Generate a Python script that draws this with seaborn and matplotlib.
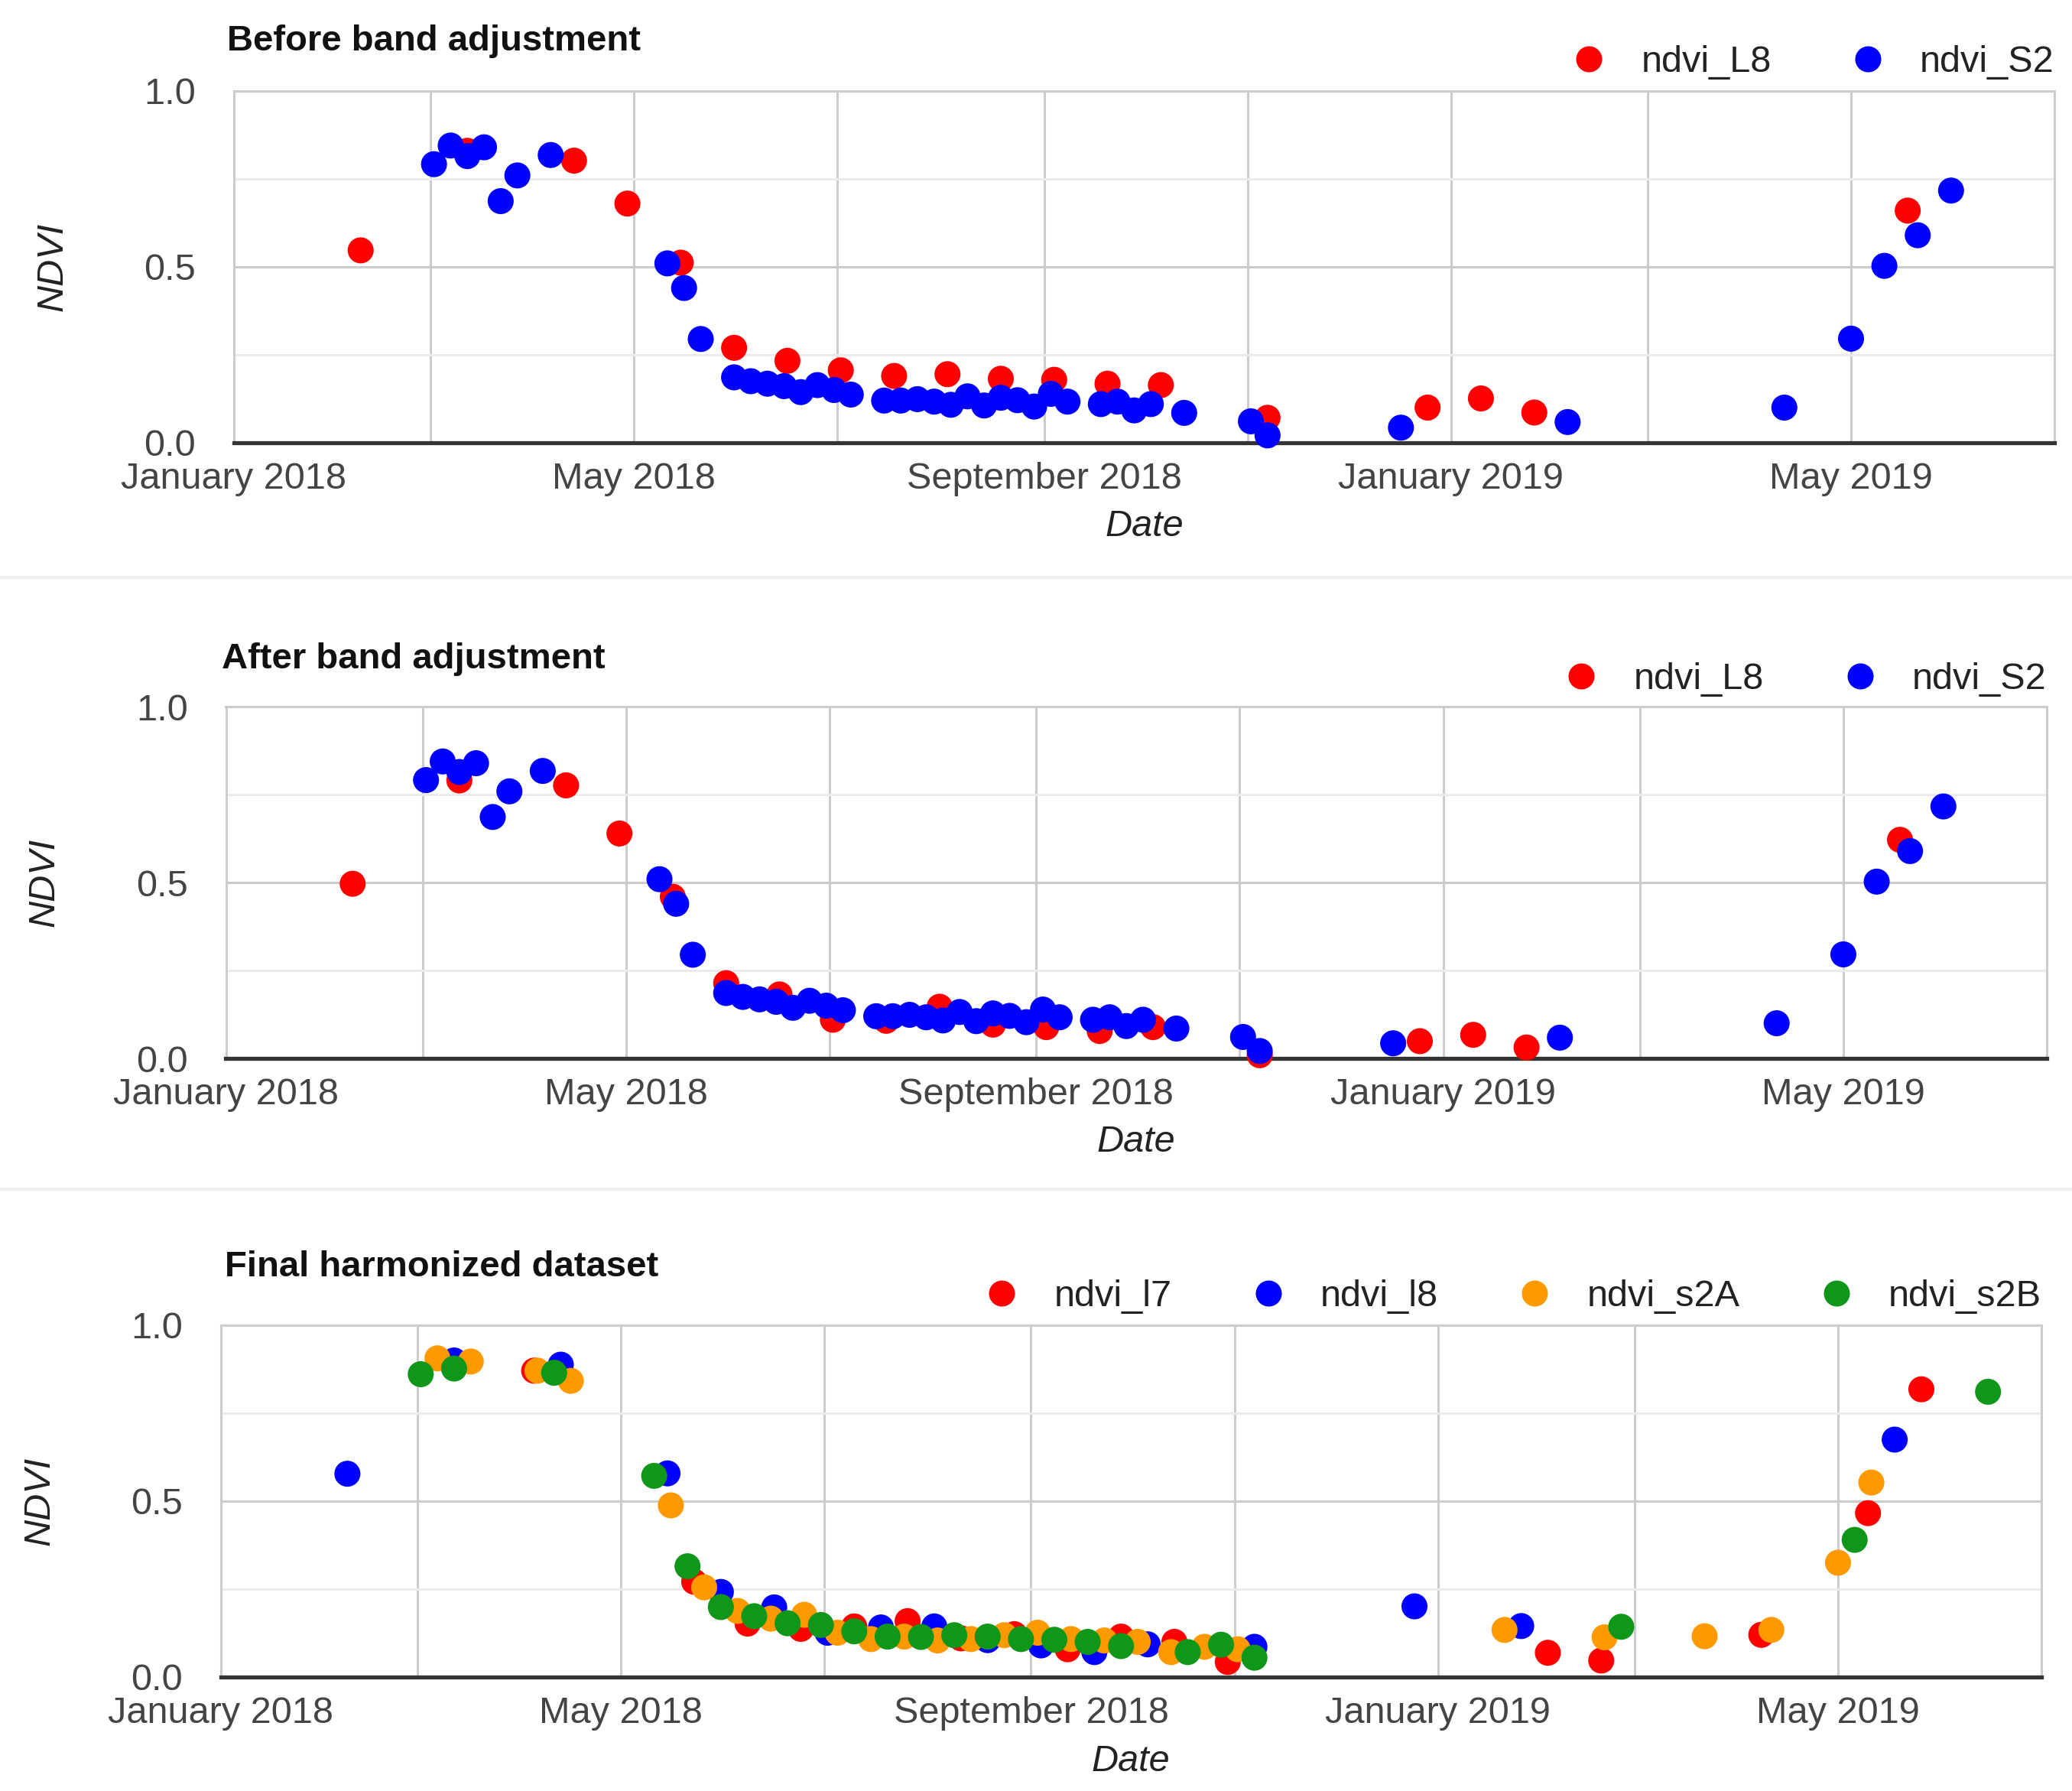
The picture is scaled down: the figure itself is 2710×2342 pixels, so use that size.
import matplotlib
matplotlib.use("Agg")
import matplotlib.pyplot as plt
import matplotlib.dates as mdates
from matplotlib.ticker import FuncFormatter, FixedLocator
from matplotlib.lines import Line2D
import seaborn as sns
import pandas as pd

# ---------------- data (days since 2018-01-01, NDVI) ----------------
BASE_DATE = "2018-01-01"

# Panel 1: before band adjustment
before_l8_days = [38, 70, 102, 118, 134, 150, 166, 182, 198, 214, 230, 246, 262, 278, 310, 358, 374, 390, 502]
before_l8_ndvi = [0.547, 0.83, 0.802, 0.68, 0.512, 0.27, 0.233, 0.206, 0.19, 0.195, 0.182, 0.179, 0.168, 0.164,
                  0.071, 0.10, 0.126, 0.086, 0.66]

s2_days = [60, 65, 70, 75, 80, 85, 95, 130, 135, 140,
           150, 155, 160, 165, 170, 175, 180, 185,
           195, 200, 205, 210, 215, 220, 225, 230, 235, 240, 245, 250,
           260, 265, 270, 275, 285, 305, 310, 350, 400, 465, 485, 495, 505, 515]
s2_ndvi = [0.792, 0.845, 0.815, 0.84, 0.687, 0.76, 0.818, 0.51, 0.44, 0.295,
           0.186, 0.175, 0.168, 0.161, 0.144, 0.164, 0.15, 0.137,
           0.12, 0.12, 0.124, 0.117, 0.108, 0.132, 0.106, 0.128, 0.121, 0.103, 0.139, 0.117,
           0.11, 0.117, 0.092, 0.11, 0.085, 0.061, 0.021, 0.043, 0.059, 0.10, 0.296, 0.503, 0.59, 0.717]

# Panel 2: after band adjustment (L8 adjusted, S2 unchanged)
after_l8_days = before_l8_days
after_l8_ndvi = [0.497, 0.791, 0.777, 0.640, 0.46, 0.214, 0.182, 0.11, 0.107, 0.147, 0.096, 0.089, 0.078, 0.089,
                 0.009, 0.049, 0.067, 0.031, 0.622]

# Panel 3: final harmonized dataset
l7_days = [94, 142, 158, 174, 190, 206, 222, 238, 254, 270, 286, 302, 398, 414, 462, 494, 510]
l7_ndvi = [0.871, 0.271, 0.152, 0.137, 0.144, 0.159, 0.11, 0.122, 0.079, 0.115, 0.10, 0.043,
           0.069, 0.047, 0.12, 0.466, 0.818]
l8_days = [38, 70, 102, 134, 150, 166, 182, 198, 214, 230, 246, 262, 278, 310, 358, 390, 502]
l8_ndvi = [0.578, 0.90, 0.888, 0.579, 0.242, 0.198, 0.126, 0.141, 0.144, 0.105, 0.09, 0.071, 0.093,
           0.086, 0.201, 0.145, 0.675]
s2a_days = [65, 75, 95, 105, 135, 145, 155, 165, 175, 185, 195, 205, 215, 225, 235, 245, 255, 265,
            275, 285, 295, 305, 385, 415, 445, 465, 485, 495]
s2a_ndvi = [0.906, 0.897, 0.871, 0.842, 0.488, 0.255, 0.188, 0.166, 0.177, 0.126, 0.108, 0.115, 0.104,
            0.108, 0.119, 0.126, 0.108, 0.104, 0.10, 0.071, 0.086, 0.079, 0.134, 0.113, 0.116, 0.134,
            0.325, 0.553]
s2b_days = [60, 70, 100, 130, 140, 150, 160, 170, 180, 190, 200, 210, 220, 230, 240, 250, 260, 270,
            290, 300, 310, 420, 490, 530]
s2b_ndvi = [0.861, 0.877, 0.865, 0.572, 0.315, 0.199, 0.173, 0.153, 0.148, 0.130, 0.115, 0.114, 0.119,
            0.115, 0.108, 0.106, 0.10, 0.088, 0.071, 0.092, 0.055, 0.143, 0.39, 0.811]

titles = ["Before band adjustment", "After band adjustment", "Final harmonized dataset"]
x_label = "Date"
y_label = "NDVI"
y_ticks = [0.0, 0.5, 1.0]
y_tick_labels = ["0.0", "0.5", "1.0"]
labelled_months = [1, 5, 9]

colors12 = {"ndvi_L8": "#ff0000", "ndvi_S2": "#0000ff"}
colors3 = {"ndvi_l7": "#ff0000", "ndvi_l8": "#0000ff", "ndvi_s2A": "#ff9900", "ndvi_s2B": "#109618"}


def long_df(series):
    frames = []
    for name, days, vals in series:
        frames.append(pd.DataFrame({
            "date": pd.Timestamp(BASE_DATE) + pd.to_timedelta(days, unit="D"),
            "ndvi": vals,
            "series": name,
        }))
    return pd.concat(frames, ignore_index=True)


panels = [
    (long_df([("ndvi_L8", before_l8_days, before_l8_ndvi), ("ndvi_S2", s2_days, s2_ndvi)]), colors12),
    (long_df([("ndvi_L8", after_l8_days, after_l8_ndvi), ("ndvi_S2", s2_days, s2_ndvi)]), colors12),
    (long_df([("ndvi_l7", l7_days, l7_ndvi), ("ndvi_l8", l8_days, l8_ndvi),
              ("ndvi_s2A", s2a_days, s2a_ndvi), ("ndvi_s2B", s2b_days, s2b_ndvi)]), colors3),
]

# ---------------- style ----------------
sns.set_theme(style="white")
plt.rcParams["font.family"] = ["Liberation Sans", "DejaVu Sans"]

W, H = 2710, 2342
fig = plt.figure(figsize=(W / 100, H / 100), dpi=100)

# axes boxes in pixels: left, top, right, bottom
boxes = [(306, 119, 2687, 579), (295.5, 924.5, 2677, 1384), (288.6, 1733, 2670, 2193)]
title_pos = [(297, 54), (290, 862), (294, 1657)]
legend_y = [1.082, 1.079, 1.082]

FS = 35
MS_S = 600


def fmt_date(x, pos):
    d = mdates.num2date(x)
    if d.month in labelled_months:
        return d.strftime("%B %Y")
    return ""


for i, ((df, pal), (l, t, r, b)) in enumerate(zip(panels, boxes)):
    ax = fig.add_axes([l / W, 1 - b / H, (r - l) / W, (b - t) / H])
    order = list(pal.keys())
    sns.scatterplot(data=df, x="date", y="ndvi", hue="series", hue_order=order, palette=pal,
                    s=MS_S, linewidth=0, legend=False, ax=ax)
    for coll in ax.collections:
        coll.set_clip_on(False)
        coll.set_zorder(3)

    ax.set_xlim(pd.Timestamp("2018-01-01"), pd.Timestamp("2019-07-01"))
    ax.set_ylim(0, 1)
    ax.xaxis.set_major_locator(mdates.MonthLocator(bymonth=[1, 3, 5, 7, 9, 11]))
    ax.xaxis.set_minor_locator(mdates.MonthLocator(bymonth=[2, 4, 6, 8, 10, 12]))
    ax.xaxis.set_major_formatter(FuncFormatter(fmt_date))
    ax.yaxis.set_major_locator(FixedLocator(y_ticks))
    ax.set_yticklabels(y_tick_labels)
    ax.yaxis.set_minor_locator(FixedLocator([0.25, 0.75]))

    ax.grid(which="major", axis="both", color="#cccccc", lw=2.2, zorder=0)
    ax.grid(which="minor", axis="y", color="#ebebeb", lw=2.2, zorder=0)
    ax.set_axisbelow(True)

    ax.tick_params(axis="both", which="major", length=0, labelsize=FS, labelcolor="#444444")
    ax.tick_params(axis="x", which="major", pad=18)
    ax.tick_params(axis="y", which="major", pad=36)
    ax.tick_params(axis="x", which="minor", direction="in", length=11, width=1.8, color="#c8c8c8")
    ax.tick_params(axis="y", which="minor", length=0)

    for side in ["left", "right", "top"]:
        ax.spines[side].set_color("#cccccc")
        ax.spines[side].set_linewidth(2.2)
    ax.spines["bottom"].set_color("#333333")
    ax.spines["bottom"].set_linewidth(3.8)
    ax.spines["bottom"].set_zorder(2.6)

    ax.set_xlabel("")
    ax.set_ylabel("")

    # axis titles
    cx = (l + r) / 2
    cy = (t + b) / 2
    fig.text(cx / W, 1 - (b + 110) / H, x_label, ha="center", va="center", fontsize=FS,
             style="italic", color="#222222")
    fig.text((l - 237) / W, 1 - cy / H, y_label, ha="center", va="center", rotation=90,
             fontsize=FS, style="italic", color="#222222")

    # chart title
    tx, ty = title_pos[i]
    fig.text(tx / W, 1 - ty / H, titles[i], ha="left", va="center", fontsize=34,
             fontweight="bold", color="#111111")

    # legend
    handles = [Line2D([], [], marker="o", ls="", ms=24.5, color=pal[k], markeredgewidth=0) for k in order]
    ax.legend(handles, order, loc="center right", bbox_to_anchor=(1.0, legend_y[i]), ncol=len(order),
              frameon=False, borderaxespad=0, borderpad=0, handlelength=1.0, handletextpad=0.9,
              columnspacing=2.1, fontsize=FS, labelcolor="#222222")

# faint separators between panels
for yy in [755, 1555]:
    fig.add_artist(Line2D([0, 1], [1 - yy / H, 1 - yy / H], transform=fig.transFigure,
                          color="#eeeeee", lw=3))

fig.savefig("out.png", dpi=100)
